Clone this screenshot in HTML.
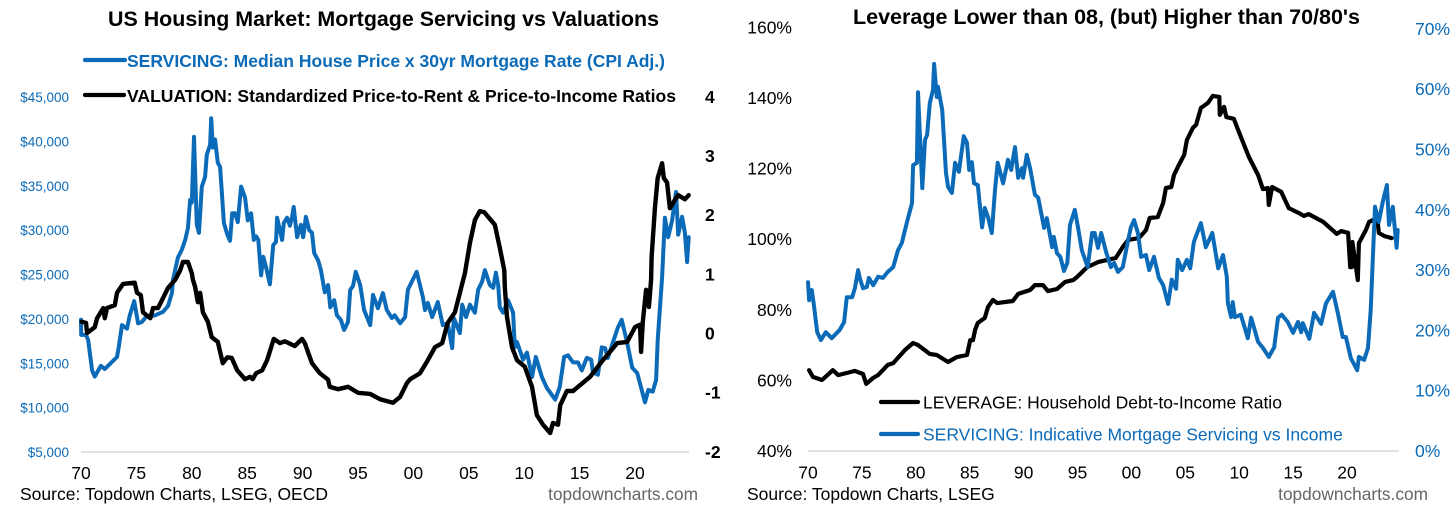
<!DOCTYPE html>
<html lang="en">
<head>
<meta charset="utf-8">
<title>US Housing Charts</title>
<style>
html,body{margin:0;padding:0;background:#fff;}
svg{display:block;font-family:"Liberation Sans",Arial,sans-serif;}
text{dominant-baseline:central;}
</style>
</head>
<body>
<svg id="chart" xmlns="http://www.w3.org/2000/svg" width="1456" height="505" viewBox="0 0 1456 505">
<rect x="0" y="0" width="1456" height="505" fill="#fff"/>
<g id="left-chart">
<text x="108" y="19" font-size="21.5" font-weight="bold" textLength="551" lengthAdjust="spacingAndGlyphs" fill="#000">US Housing Market: Mortgage Servicing vs Valuations</text>
<line x1="85" y1="60" x2="125" y2="60" stroke="#0c6bb8" stroke-width="4.2" stroke-linecap="round"/>
<text x="127" y="61" font-size="17.5" font-weight="bold" textLength="538" lengthAdjust="spacingAndGlyphs" fill="#0c6bb8">SERVICING: Median House Price x 30yr Mortgage Rate (CPI Adj.)</text>
<line x1="85" y1="95" x2="124" y2="95" stroke="#000" stroke-width="4.2" stroke-linecap="round"/>
<text x="127" y="96" font-size="17.5" font-weight="bold" textLength="549" lengthAdjust="spacingAndGlyphs" fill="#000">VALUATION: Standardized Price-to-Rent &amp; Price-to-Income Ratios</text>
<text x="20" y="494" font-size="17.5" fill="#000">Source: Topdown Charts, LSEG, OECD</text>
<text x="698" y="494" font-size="17.3" text-anchor="end" fill="#666">topdowncharts.com</text>
</g>
<g id="right-chart">
<text x="853" y="17" font-size="21.5" font-weight="bold" textLength="507" lengthAdjust="spacingAndGlyphs" fill="#000">Leverage Lower than 08, (but) Higher than 70/80's</text>
<text x="747" y="494" font-size="17.5" fill="#000">Source: Topdown Charts, LSEG</text>
<text x="1428" y="494" font-size="17.3" text-anchor="end" fill="#666">topdowncharts.com</text>
</g>
</svg>
<script>
/* Shared */
var xTickYears = [70,75,80,85,90,95,100,105,110,115,120];
var xTickLabels = ['70','75','80','85','90','95','00','05','10','15','20'];

/* Left chart: years are counted since 1900 */
var leftServicingYears = [70,70.02,70.45,70.65,71,71.25,71.55,71.8,72.15,72.6,73.25,73.4,73.7,74.15,74.4,74.8,75.15,75.5,75.85,76.7,77.4,77.85,78.2,78.3,78.75,79.1,79.4,79.65,79.85,80,80.2,80.45,80.65,80.9,81.2,81.35,81.65,81.75,81.9,82.1,82.35,82.55,82.7,82.9,83.2,83.45,83.65,83.9,84.15,84.45,84.8,85.05,85.35,85.6,85.8,86,86.25,86.45,86.7,87.05,87.35,87.6,87.7,88.15,88.3,88.6,88.85,89.05,89.2,89.5,89.85,90.05,90.3,90.6,90.85,91.05,91.4,91.65,92,92.3,92.5,92.85,93.1,93.45,93.75,94.1,94.3,94.55,94.8,95.2,95.55,96.1,96.35,96.8,97.25,97.6,98.05,98.3,98.8,99.25,99.5,100.3,100.85,101.05,101.3,101.7,102.2,102.65,103.1,103.5,103.65,104.2,104.4,104.75,105.1,105.55,105.85,106.2,106.45,106.9,107.2,107.45,107.65,107.8,108.1,108.55,109,109.15,109.35,109.9,110.25,110.7,111.05,111.6,112.05,112.8,113.2,113.6,113.95,114.4,114.85,115.2,115.65,116.05,116.2,116.65,117,117.3,117.55,118,118.45,118.8,119.3,119.75,120.2,120.9,121.2,121.6,121.9,122.05,122.45,122.7,123,123.35,123.7,123.9,124.25,124.5,124.7,124.85];
var leftServicingThousands = [19.9,18.2,18.2,17.6,14.2,13.5,14.2,14.7,14.35,14.9,15.7,16.8,19.3,18.9,20.4,22,19.5,19.65,20.2,20.4,20.8,21.45,22.9,24.4,26.9,27.8,28.9,30.2,33.4,33.1,40.5,30.6,29.7,34.9,36,38.5,39.6,42.6,39.3,40.2,37.6,37.1,34.5,30.8,29.5,28.8,31.9,31.9,30.9,34.9,33.7,31.1,31.9,28.9,29.3,28.9,24.9,27,25.85,23.9,28.3,28.7,31.4,28.9,30.8,31.4,30.5,31.5,32.6,29.2,30.6,29.2,31.5,30,29.7,27.4,26.6,25.5,23,23.8,21.3,22.1,20.4,19.9,18.75,19.65,23.25,23.7,25.3,23.8,21,19.3,22.7,21.2,22.9,21,20.1,20.4,19.5,20.2,23.3,25.3,22.5,21,21.8,20.2,21.9,19.3,19.5,16.7,20.1,18.4,21.6,20.2,21.6,20.7,23.3,24.2,25.5,23.8,23.5,25.2,23.8,21.3,20.7,22.1,20.7,16.8,17.4,15.4,16.2,13.45,15.7,13.45,12.2,10.9,12.3,15.7,15.9,15.1,15.1,14.2,15.6,15.4,14,13.7,16.8,16.7,15.6,17.3,19,19.9,17.3,14.5,13.9,10.6,12,11.8,13.1,17.6,24.7,31.4,29.2,31.1,34.3,29.5,31.5,29.7,26.4,29.2];
var leftValuationYears = [70.05,70.45,70.55,71.25,71.45,72,72.15,72.35,73.05,73.25,73.8,74.85,75.05,75.4,75.6,76.25,76.5,76.95,77.4,77.85,78.5,78.95,79.2,79.65,80,80.1,80.3,80.55,80.6,80.75,81,81.45,81.8,82.35,82.8,83.2,83.6,84.1,84.8,85.25,85.5,85.8,86.35,86.8,87.4,87.95,88.4,89.3,89.95,90.2,90.85,91.55,92.3,92.45,93.2,94.1,95,96.1,97,98.15,98.8,99.4,99.7,100.6,101.3,101.95,102.6,103.1,103.75,104.2,104.65,105.1,105.55,106,106.4,107.35,107.8,108.2,108.25,108.45,108.9,109.35,110.05,110.7,111.15,111.7,112.35,112.6,113.05,113.25,113.85,114.4,115.95,117.1,118.4,119.3,120,120.45,120.55,120.7,121,121.25,121.45,121.5,121.8,122.05,122.45,122.6,122.9,123.15,123.6,123.9,124.5,124.85];
var leftValuationValues = [0.19,0.17,0,0.1,0.25,0.42,0.25,0.42,0.47,0.68,0.83,0.85,0.68,0.64,0.35,0.25,0.42,0.42,0.59,0.76,0.9,1.06,1.2,1.2,1.01,0.9,0.78,0.52,0.62,0.68,0.35,0.19,-0.07,-0.15,-0.51,-0.41,-0.42,-0.63,-0.78,-0.74,-0.78,-0.68,-0.63,-0.46,-0.1,-0.17,-0.14,-0.22,-0.1,-0.17,-0.51,-0.68,-0.79,-0.91,-0.95,-0.91,-1.01,-1.03,-1.12,-1.18,-1.08,-0.85,-0.78,-0.68,-0.46,-0.24,-0.17,0.17,0.35,0.68,1.01,1.52,1.91,2.06,2.04,1.83,1.44,1.06,0.78,0.27,-0.24,-0.46,-0.57,-0.91,-1.39,-1.55,-1.69,-1.52,-1.55,-1.22,-0.98,-0.98,-0.74,-0.46,-0.17,-0.15,0.1,0.14,-0.32,0.19,0.73,0.44,0.9,1.28,2.11,2.62,2.87,2.62,2.54,2.11,2.25,2.33,2.26,2.33];
var leftPriceTicks = [5,10,15,20,25,30,35,40,45];
var leftPriceTickLabels = ['$5,000','$10,000','$15,000','$20,000','$25,000','$30,000','$35,000','$40,000','$45,000'];
var leftScoreTicks = [-2,-1,0,1,2,3,4];

/* Right chart */
var rightLeverageYears = [70.1,70.45,71.3,72.3,72.8,74.35,75.1,75.4,76.05,76.5,77.4,77.9,79,79.75,80.2,81.3,81.95,83,83.8,84.75,85.05,85.3,85.5,85.75,86.4,86.7,87.15,87.55,89,89.5,90.6,91.05,91.8,92.25,93.1,93.85,94.6,94.95,95.9,96.9,98.55,99.2,99.7,100.7,101.35,101.7,102.45,102.95,103.2,103.7,103.95,104.4,104.9,105.15,105.7,106,106.45,107.1,107.55,108.15,108.2,108.6,108.8,109.5,110.15,110.9,111.75,112.2,112.65,112.75,113.05,113.9,114.6,115.55,116,116.45,117.8,119.05,119.45,120.1,120.3,120.45,120.5,121,121.1,121.75,122.05,122.4,122.85,122.95,123.45,124.15];
var rightLeverageValues = [62.9,61,60.1,62.9,61.5,62.7,61.8,59,60.7,61.5,64.4,64.9,68.6,70.6,70,67.5,67.2,65.2,66.6,67.2,71.4,71.4,74.3,76.3,77.7,80.8,82.8,81.9,82.5,84.5,85.6,87,87,85.3,85.9,87.9,88.4,89.3,92.1,93.5,94.7,97.8,99.8,100.3,102.6,106,106.3,110.3,114.5,114.8,118.2,121,123.9,128.1,131.5,132.4,137.2,138.6,140.6,140.3,135.2,137.5,134.6,134.1,129,123.3,118.2,114.2,114.5,109.7,114.8,113.4,108.8,107.4,106.6,107.1,104.9,101.5,102.3,101.8,92.1,92.1,99.2,88.4,98.9,102.6,104.9,105.4,104.9,101.8,100.9,100.3];
var rightServicingYears = [70,70.1,70.35,70.55,70.85,71.2,71.65,72.2,72.95,73.35,73.6,74.1,74.35,74.65,74.8,75.1,75.45,75.65,76.05,76.5,76.95,77.4,77.9,78.35,78.7,79,79.3,79.65,79.75,80.1,80.2,80.6,80.85,81.05,81.3,81.6,81.7,81.95,82.05,82.45,82.5,82.8,83,83.35,83.65,84,84.45,84.75,84.95,85.2,85.4,85.75,86.15,86.4,86.7,87.05,87.35,87.6,88.1,88.55,88.85,89.2,89.5,89.85,89.95,90.3,90.6,91.05,91.35,91.9,92.15,92.65,92.8,93.1,93.4,93.75,94.05,94.3,94.75,95.05,95.4,95.95,96.35,96.6,96.9,97.2,97.65,98.1,98.4,98.75,99.2,99.7,99.95,100.25,100.6,100.9,101.35,101.65,102.1,102.55,102.95,103.4,103.75,104.15,104.3,104.7,105.15,105.45,105.8,106.45,106.9,107.5,108.05,108.5,108.85,108.95,109.25,109.4,109.6,110.15,110.8,111.1,111.35,111.75,112.2,112.75,113.25,113.6,113.95,114.5,115,115.45,115.75,115.9,116.5,116.95,117.6,118.05,118.7,119.15,119.6,119.9,120.35,120.95,121.1,121.6,121.95,122.2,122.4,122.6,122.95,123.35,123.7,123.9,124.25,124.6,124.7];
var rightServicingValues = [28,25,26.7,24.2,19.7,18.4,19.7,18.7,20.1,21.4,25.5,25.5,27,30,28.7,27,27.2,28.7,27.5,28.9,28.7,29.7,30.5,33.3,34.5,36.65,38.8,41.1,47.4,47.8,59.5,43.6,51.6,52.4,57.7,59.9,64.2,58.7,60.4,56.6,54.9,46.1,43.8,42.8,47.8,46.3,52.2,51.1,46.6,47.9,44.4,44.1,37.1,40.3,38.8,36.15,43.3,47.8,44.4,48.3,46.6,50.4,45.3,46.9,45.3,49.1,46.9,42.5,42,37,38.6,33.8,35.5,32.8,32.2,29.85,31.2,37.5,40,37.1,33.3,30.5,36.15,36.15,33.7,36.15,33,30.5,31.2,29.7,30.5,35,37.1,38.3,36.15,32.2,32.5,30,32.2,28.7,27.5,24.4,28.4,26.9,31.7,30,31.7,30.3,34.7,37.8,33.8,36.15,30.3,32.5,28.9,24.5,22.2,24.7,22.2,22.6,18.7,22.1,20.6,18.1,17.1,15.6,17.2,22.1,22.6,21.4,19.6,21.4,19.7,21.2,18.6,22.9,21.1,24.5,26.4,22.9,18.9,18.9,15.4,13.4,15.6,15.1,17.1,23.4,32.2,40.5,38,41.6,44.1,37.5,40.5,33.7,36.65];
var rightLeverageTicks = [40,60,80,100,120,140,160];
var rightServicingTicks = [0,10,20,30,40,50,60,70];

var BLUE = '#0c6bb8';
var NS = 'http://www.w3.org/2000/svg';
var leftGroup = document.getElementById('left-chart');
var rightGroup = document.getElementById('right-chart');

/* Axis functions */
function xLeft(year){ return 81 + (year - 70) * 11.08; }
function yLeftPrice(k){ return 452 - (k - 5) * 8.875; }
function yLeftScore(s){ return 333 - s * 59.17; }
function xRight(year){ return 808 + (year - 70) * 10.78; }
function yRightLeverage(p){ return 451 - (p - 40) * 3.53; }
function yRightServicing(p){ return 451 - p * 6.03; }

function pathFrom(xs, ys, xFn, yFn){
  var d = '';
  for (var i = 0; i < xs.length; i++) {
    d += (i ? 'L' : 'M') + xFn(xs[i]).toFixed(1) + ' ' + yFn(ys[i]).toFixed(1);
  }
  return d;
}
function makeText(parent, x, y, str, size, anchor, color, bold){
  var t = document.createElementNS(NS, 'text');
  t.setAttribute('x', x);
  t.setAttribute('y', y);
  t.setAttribute('font-size', size);
  t.setAttribute('text-anchor', anchor);
  t.setAttribute('fill', color);
  if (bold) t.setAttribute('font-weight', 'bold');
  t.textContent = str;
  parent.appendChild(t);
  return t;
}
function makeLine(parent, d, color, width){
  var p = document.createElementNS(NS, 'path');
  p.setAttribute('d', d);
  p.setAttribute('fill', 'none');
  p.setAttribute('stroke', color);
  p.setAttribute('stroke-width', width);
  p.setAttribute('stroke-linejoin', 'round');
  p.setAttribute('stroke-linecap', 'round');
  parent.appendChild(p);
  return p;
}

/* Baselines */
var leftBase = document.createElementNS(NS, 'line');
leftBase.setAttribute('x1', xLeft(70));
leftBase.setAttribute('x2', 689);
leftBase.setAttribute('y1', yLeftPrice(5));
leftBase.setAttribute('y2', yLeftPrice(5));
leftBase.setAttribute('stroke', '#d9d9d9');
leftBase.setAttribute('stroke-width', '1.5');


leftGroup.appendChild(leftBase);

var rightBase = document.createElementNS(NS, 'line');
rightBase.setAttribute('x1', xRight(70));
rightBase.setAttribute('x2', 1399);
rightBase.setAttribute('y1', yRightLeverage(40));
rightBase.setAttribute('y2', yRightLeverage(40));
rightBase.setAttribute('stroke', '#d9d9d9');
rightBase.setAttribute('stroke-width', '1.5');


rightGroup.appendChild(rightBase);

/* Ticks */
xTickYears.forEach(function(yr, i){
  var a = makeText(leftGroup, xLeft(yr), 473, xTickLabels[i], 17.5, 'middle', '#000');
  
  
  var b = makeText(rightGroup, xRight(yr), 472.5, xTickLabels[i], 17.5, 'middle', '#000');
  
  
});
leftPriceTicks.forEach(function(v, i){
  var t = makeText(leftGroup, 69, yLeftPrice(v) + 0.5, leftPriceTickLabels[i], 13.5, 'end', BLUE);
  
  
});
leftScoreTicks.forEach(function(v){
  var t = makeText(leftGroup, 705, yLeftScore(v) + 0.5, String(v), 17.5, 'start', '#000', true);
  
  
});
rightLeverageTicks.forEach(function(v){
  var t = makeText(rightGroup, 792, yRightLeverage(v), v + '%', 17.5, 'end', '#000');
  
  
});
rightServicingTicks.forEach(function(v){
  var t = makeText(rightGroup, 1415, yRightServicing(v), v + '%', 17.5, 'start', BLUE);
  
  
});

/* Series */
var s1 = makeLine(leftGroup, pathFrom(leftServicingYears, leftServicingThousands, xLeft, yLeftPrice), BLUE, 4);


var s2 = makeLine(leftGroup, pathFrom(leftValuationYears, leftValuationValues, xLeft, yLeftScore), '#000', 4.4);


var s3 = makeLine(rightGroup, pathFrom(rightLeverageYears, rightLeverageValues, xRight, yRightLeverage), '#000', 4.2);


var s4 = makeLine(rightGroup, pathFrom(rightServicingYears, rightServicingValues, xRight, yRightServicing), BLUE, 4);



/* Right legend drawn above the lines */
var legA = makeLine(rightGroup, 'M881 402L918 402', '#000', 4.2);


var legAText = makeText(rightGroup, 923, 402.5, 'LEVERAGE: Household Debt-to-Income Ratio', 17.5, 'start', '#000');


var legB = makeLine(rightGroup, 'M881 434L918 434', BLUE, 4.2);


var legBText = makeText(rightGroup, 923, 434.5, 'SERVICING: Indicative Mortgage Servicing vs Income', 17.5, 'start', BLUE);


</script>
</body>
</html>
